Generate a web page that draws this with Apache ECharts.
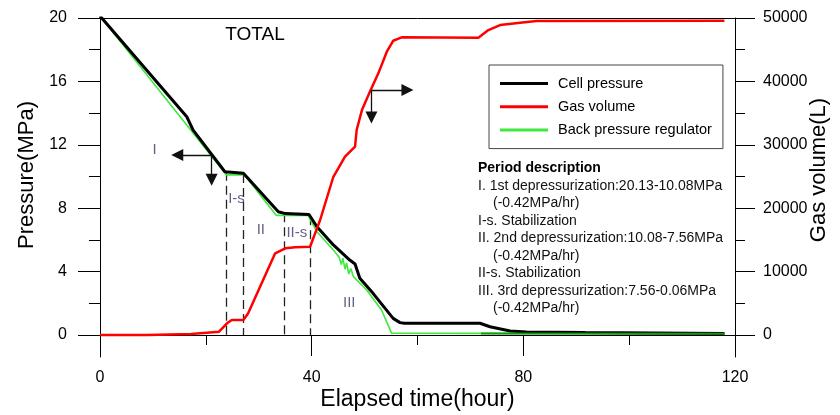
<!DOCTYPE html>
<html><head><meta charset="utf-8">
<script src="https://cdn.jsdelivr.net/npm/echarts@6/dist/echarts.min.js"></script>
<style>html,body{margin:0;padding:0;background:#fff}#c{width:840px;height:415px}</style>
</head><body><div id="c"></div>
<script>
// ---- data (time in hours) ----
const cellPressure = [[0,20.13],[16.4,13.77],[17.6,12.93],[23.6,10.3],[27.1,10.2],[33.7,7.78],[35.0,7.66],[39.5,7.6],[41.0,6.83],[44.1,5.68],[47.2,4.73],[48.2,4.48],[49.1,3.58],[51.6,2.63],[55.4,1.05],[56.7,0.78],[57.5,0.74],[71.8,0.74],[73.7,0.52],[77.5,0.25],[80.6,0.19],[91.7,0.15],[118,0.1]];
const gasVolume = [[0,0],[9,0],[9.1,150],[17.2,150],[17.3,430],[22.5,520],[24.0,1840],[24.9,2370],[27.1,2370],[28.0,3420],[33.1,12880],[35.0,13670],[36.9,13830],[39.7,13930],[40.3,15250],[41.6,18140],[44.1,24960],[46.3,28120],[48.2,29700],[48.5,32330],[49.5,35480],[51.0,38370],[52.6,41270],[54.2,44680],[55.4,46410],[57.0,46950],[71.5,46900],[73.4,48100],[75.6,48890],[79.4,49260],[82.5,49520],[118,49570]];
const bprPressure = [[0,20.13],[23.9,10.1],[27.3,10.1],[33.3,7.55],[39.3,7.55],[41.0,6.52],[44.1,5.36],[45.2,4.9],[45.6,4.45],[45.9,4.85],[46.3,4.15],[46.6,4.55],[47.0,3.85],[47.4,4.2],[47.9,3.68],[50.4,2.84],[53.2,1.58],[55.1,0.12],[72,0.1],[118,0.08]];
const bprLateStart = 72; // after this time the regulator trace is drawn darker
const pressureTicks = [0,4,8,12,16,20];
const pressureMinorTicks = [2,6,10,14,18];
const volumeTicks = [0,10000,20000,30000,40000,50000];
const volumeMinorTicks = [5000,15000,25000,35000,45000];
// period boundaries: [time, pressure at top of dashed line]
const periodBounds = [[23.8,10.3],[27.1,10.15],[34.8,7.68],[39.8,7.5]];
const periodLabels = [['I',10.3,11.67],['I-s',25.8,8.56],['II',30.4,6.62],['II-s',37.2,6.42],['III',47.1,2.04]];
const pressureArrow = {from:[21.1,11.36], to:[[14.6,11.36],[21.1,9.8]]};
const volumeArrow = {from:[51.3,38640], to:[[58.1,38640],[51.3,34300]]};
const chartTitle = 'TOTAL';
const periodHeading = 'Period description';
const periodLines = ['I. 1st depressurization:20.13-10.08MPa','(-0.42MPa/hr)','I-s. Stabilization','II. 2nd depressurization:10.08-7.56MPa','(-0.42MPa/hr)','II-s. Stabilization','III. 3rd depressurization:7.56-0.06MPa','(-0.42MPa/hr)'];

const FONT = "'Liberation Sans', Arial, sans-serif";
const pMin = -1.388, pMax = 20, vMin = -3470, vMax = 50000;

const chart = echarts.init(document.getElementById('c'), null, {renderer:'canvas'});

const graphics = [{type:'text', x:255, y:35, style:{text:chartTitle, font:'19px '+FONT, fill:'#000', align:'center', verticalAlign:'middle'}}];
graphics.push({type:'text', x:478, y:168.3, style:{text:periodHeading, font:'bold 14px '+FONT, fill:'#000', align:'left', verticalAlign:'middle'}});
periodLines.forEach((t,i)=>{
  graphics.push({type:'text', x: t.startsWith('(') ? 493 : 478, y:186 + i*17.5, style:{text:t, font:'14px '+FONT, fill:'#111', align:'left', verticalAlign:'middle'}});
});

const axisText = {color:'#000', fontFamily:FONT};
const plain = v => String(v);
const option = {
  animation:false,
  backgroundColor:'#fff',
  textStyle:{fontFamily:FONT},
  grid:{left:100, right:105, top:18, bottom:58, containLabel:false, outerBoundsMode:'none'},
  legend:{
    data:[{name:'Cell pressure', icon:'rect'},{name:'Gas volume', icon:'rect'},{name:'Back pressure regulator', icon:'rect'}],
    orient:'vertical', left:489, top:65, padding:[11,11,11,11], itemGap:8.3,
    itemWidth:48, itemHeight:3, borderColor:'#444', borderWidth:1, backgroundColor:'#fff',
    textStyle:{fontSize:14.5, lineHeight:14, color:'#000', fontFamily:FONT, padding:[0,0,0,5]},
    selectedMode:false
  },
  xAxis:[
    {type:'value', min:0, max:120, interval:40, position:'bottom',
     axisLine:{onZero:true, onZeroAxisIndex:0, lineStyle:{color:'#000', width:1}},
     axisTick:{length:21, lineStyle:{color:'#000'}},
     minorTick:{show:true, splitNumber:2, length:10, lineStyle:{color:'#000'}},
     axisLabel:{fontSize:16, margin:13, formatter:plain, ...axisText},
     splitLine:{show:false},
     name:'Elapsed time(hour)', nameLocation:'middle', nameGap:31, nameMoveOverlap:false,
     nameTextStyle:{fontSize:23, ...axisText}},
    {type:'value', min:0, max:120, position:'top',
     axisLine:{onZero:false, lineStyle:{color:'#000', width:1}},
     axisTick:{show:false}, axisLabel:{show:false}, splitLine:{show:false}}
  ],
  yAxis:[
    {type:'value', min:pMin, max:pMax, position:'left',
     axisLine:{show:true, onZero:false, lineStyle:{color:'#000', width:1}},
     axisTick:{show:true, length:22, customValues:pressureTicks, lineStyle:{color:'#000'}},
     axisLabel:{fontSize:16, margin:33, customValues:pressureTicks, formatter:plain, ...axisText},
     splitLine:{show:false},
     name:'Pressure(MPa)', nameLocation:'middle', nameGap:62, nameMoveOverlap:false,
     nameTextStyle:{fontSize:22, padding:[0,0,0,25], ...axisText}},
    {type:'value', min:vMin, max:vMax, position:'right',
     axisLine:{show:true, onZero:false, lineStyle:{color:'#000', width:1}},
     axisTick:{show:true, length:20, customValues:volumeTicks, lineStyle:{color:'#000'}},
     axisLabel:{fontSize:16, margin:28, customValues:volumeTicks, formatter:plain, ...axisText},
     splitLine:{show:false},
     name:'Gas volume(L)', nameLocation:'middle', nameGap:73, nameMoveOverlap:false,
     nameTextStyle:{fontSize:22, padding:[0,0,0,35], ...axisText}},
    {type:'value', min:pMin, max:pMax, position:'left',
     axisLine:{show:false, onZero:false},
     axisTick:{show:true, length:11, customValues:pressureMinorTicks, lineStyle:{color:'#000'}},
     axisLabel:{show:false}, splitLine:{show:false}},
    {type:'value', min:vMin, max:vMax, position:'right',
     axisLine:{show:false, onZero:false},
     axisTick:{show:true, length:10, customValues:volumeMinorTicks, lineStyle:{color:'#000'}},
     axisLabel:{show:false}, splitLine:{show:false}}
  ],
  series:[
    {name:'Back pressure regulator', type:'line', data:bprPressure, yAxisIndex:0, symbol:'none',
     lineStyle:{color:'#3ee83e', width:1.6}, itemStyle:{color:'#3ee83e'}, z:2},
    {name:'Back pressure regulator', type:'line', data:bprPressure.filter(p=>p[0]>=bprLateStart), yAxisIndex:0, symbol:'none',
     lineStyle:{color:'#119a11', width:2}, itemStyle:{color:'#119a11'}, z:4},
    {name:'Cell pressure', type:'line', data:cellPressure, yAxisIndex:0, symbol:'none',
     lineStyle:{color:'#000', width:3}, itemStyle:{color:'#000'}, z:3},
    {name:'Gas volume', type:'line', data:gasVolume, yAxisIndex:1, symbol:'none',
     lineStyle:{color:'#ff0000', width:2.5}, itemStyle:{color:'#ff0000'}, z:4},
    {name:'bounds', type:'lines', coordinateSystem:'cartesian2d', xAxisIndex:0, yAxisIndex:0, silent:true,
     data:periodBounds.map(b=>({coords:[[b[0],b[1]],[b[0],0]]})),
     lineStyle:{color:'#222', width:1.3, type:[9,5], opacity:1}, symbol:'none', z:1},
    {name:'pArrow', type:'lines', coordinateSystem:'cartesian2d', xAxisIndex:0, yAxisIndex:0, silent:true,
     data:pressureArrow.to.map(p=>({coords:[pressureArrow.from,p]})),
     lineStyle:{color:'#111', width:1.3, opacity:1}, symbol:['none','triangle'], symbolSize:12, z:5},
    {name:'vArrow', type:'lines', coordinateSystem:'cartesian2d', xAxisIndex:0, yAxisIndex:1, silent:true,
     data:volumeArrow.to.map(p=>({coords:[volumeArrow.from,p]})),
     lineStyle:{color:'#111', width:1.3, opacity:1}, symbol:['none','triangle'], symbolSize:12, z:5},
    {name:'labels', type:'scatter', xAxisIndex:0, yAxisIndex:0, symbolSize:0, silent:true,
     data:periodLabels.map(d=>({name:d[0], value:[d[1],d[2]]})),
     label:{show:true, position:'inside', formatter:'{b}', fontSize:15, color:'#3a3a6a', fontFamily:FONT}, z:6}
  ],
  graphic:graphics
};
chart.setOption(option);
</script></body></html>
